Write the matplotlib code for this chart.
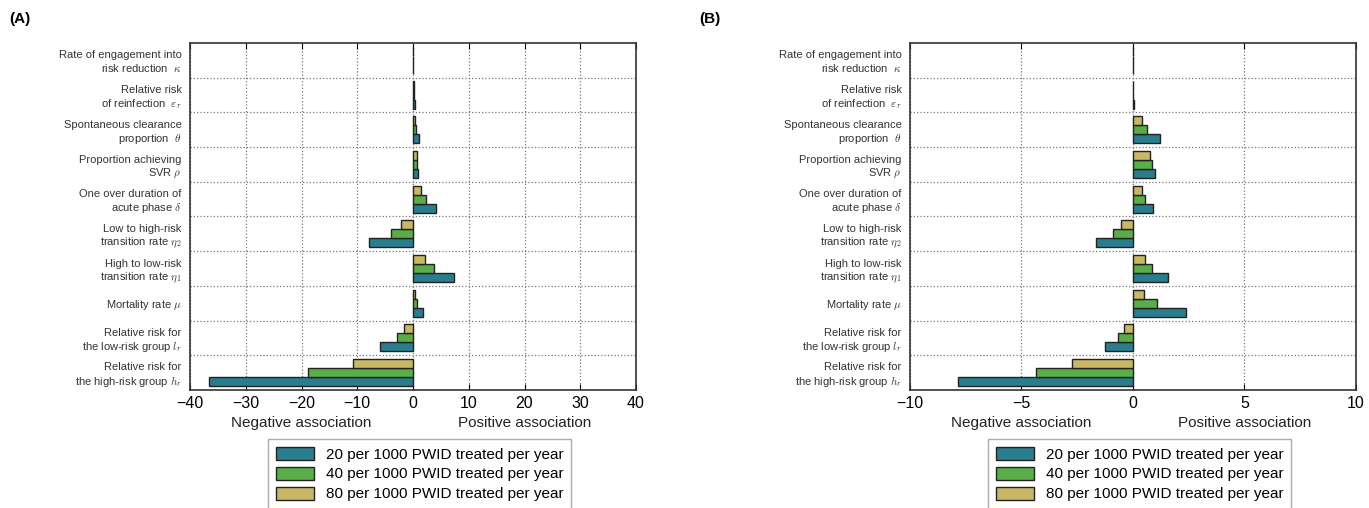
import numpy as np
import matplotlib
matplotlib.use("Agg")
import matplotlib.pyplot as plt
from matplotlib.patches import Patch

plt.rcParams['font.family'] = ['Liberation Sans', 'DejaVu Sans']
plt.rcParams['mathtext.fontset'] = 'cm'

# parameter labels, top to bottom
params = [
    'Rate of engagement into\nrisk reduction  $\\kappa$',
    'Relative risk\nof reinfection  $\\varepsilon_r$',
    'Spontaneous clearance\nproportion  $\\theta$',
    'Proportion achieving\nSVR $\\rho$',
    'One over duration of\nacute phase $\\delta$',
    'Low to high-risk\ntransition rate $\\eta_2$',
    'High to low-risk\ntransition rate $\\eta_1$',
    'Mortality rate $\\mu$',
    'Relative risk for\nthe low-risk group $l_r$',
    'Relative risk for\nthe high-risk group $h_r$',
]
series_names = ['20 per 1000 PWID treated per year',
                '40 per 1000 PWID treated per year',
                '80 per 1000 PWID treated per year']
colors = ['#2a7d8c', '#5aad48', '#c8b766']

# panel A values
a_20 = [0.03, 0.35, 1.1, 0.9, 4.2, -7.9, 7.3, 1.8, -5.9, -36.6]
a_40 = [0.02, 0.25, 0.5, 0.8, 2.4, -4.0, 3.8, 0.8, -2.8, -18.9]
a_80 = [0.01, 0.15, 0.3, 0.8, 1.4, -2.1, 2.1, 0.4, -1.6, -10.7]

# panel B values
b_20 = [0.01, 0.03, 1.21, 1.0, 0.91, -1.67, 1.56, 2.36, -1.27, -7.83]
b_40 = [0.01, 0.02, 0.64, 0.87, 0.55, -0.9, 0.87, 1.09, -0.67, -4.33]
b_80 = [0.005, 0.01, 0.39, 0.75, 0.39, -0.52, 0.54, 0.48, -0.39, -2.72]

fig = plt.figure(figsize=(13.69, 5.08), dpi=100)
axA = fig.add_axes([0.1388, 0.2323, 0.3258, 0.6831])
axB = fig.add_axes([0.6647, 0.2323, 0.3258, 0.6831])


def draw(ax, vals, lim, ticks):
    n = len(params)
    y = np.arange(n)[::-1]
    h = 0.26
    offs = [-h, 0, h]
    for v, c, o, name in zip(vals, colors, offs, series_names):
        ax.barh(y + o, v, height=h, color=c, edgecolor='#222222',
                linewidth=1.0, label=name, zorder=3)
    ax.set_xlim(-lim, lim)
    ax.set_ylim(-0.5, n - 0.5)
    ax.set_xticks(ticks)
    ax.set_xticklabels([('\u2212' if t < 0 else '') + str(abs(t)) for t in ticks],
                       fontsize=11.5)
    ax.set_yticks(np.arange(n - 1) + 0.5)
    ax.set_yticklabels([])
    ax.set_yticks(y, minor=True)
    ax.set_yticklabels(params, minor=True, fontsize=8, color='#333333')
    ax.tick_params(axis='y', which='both', length=0, pad=6)
    ax.tick_params(axis='x', direction='in', top=True, length=4, pad=4)
    ax.grid(True, which='major', linestyle=':', color='#777777', linewidth=0.9, zorder=0)
    for s in ax.spines.values():
        s.set_color('#333333')
        s.set_linewidth(1.2)
    ax.text(0.25, -0.095, 'Negative association', transform=ax.transAxes,
            ha='center', va='center', fontsize=11, color='#222222')
    ax.text(0.75, -0.095, 'Positive association', transform=ax.transAxes,
            ha='center', va='center', fontsize=11, color='#222222')
    handles = [Patch(facecolor=c, edgecolor='#222222', label=nm)
               for c, nm in zip(colors, series_names)]
    leg = ax.legend(handles=handles, loc='upper center', bbox_to_anchor=(0.515, -0.12),
                    fontsize=11, frameon=True, fancybox=False, handlelength=2.5,
                    handleheight=0.9, labelspacing=0.35, borderpad=0.5)
    leg.get_frame().set_edgecolor('#999999')


draw(axA, [a_20, a_40, a_80], 40, [-40, -30, -20, -10, 0, 10, 20, 30, 40])
draw(axB, [b_20, b_40, b_80], 10, [-10, -5, 0, 5, 10])

fig.text(0.007, 0.955, '(A)', fontsize=11, fontweight='bold')
fig.text(0.511, 0.955, '(B)', fontsize=11, fontweight='bold')

fig.savefig('out.png', dpi=100)
